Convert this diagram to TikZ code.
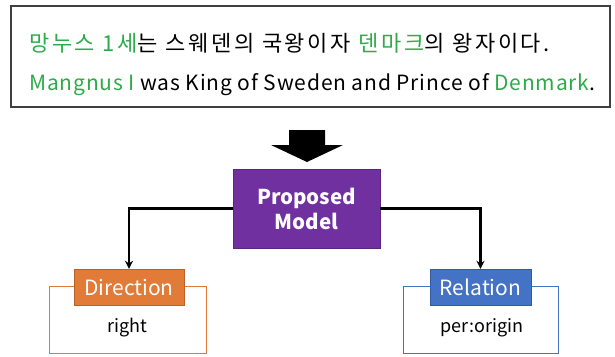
\documentclass[tikz,border=0pt]{standalone}
\usepackage{fontspec}
\setmainfont{Noto Sans CJK KR}
\usetikzlibrary{arrows.meta}
\definecolor{tgreen}{RGB}{46,170,74}
\definecolor{mpurple}{RGB}{112,48,160}
\definecolor{dorange}{RGB}{226,122,56}
\definecolor{rblue}{RGB}{68,114,196}
\tikzset{
  header/.style={draw=#1!80!black, fill=#1, text=white, minimum width=110pt, minimum height=36pt, inner sep=0pt, font=\fontsize{21}{24}\selectfont},
  outline/.style={draw=#1, line width=1pt},
  conn/.style={line width=2.4pt, -{Stealth[length=8pt,width=8pt]}},
  value/.style={font=\fontsize{18}{21}\selectfont},
}
\begin{document}
\begin{tikzpicture}[x=1pt,y=-1pt]
\useasboundingbox (0,0) rectangle (615,356);
% top box
\draw[line width=1.2pt, draw=black!75] (11,6) rectangle (610,107);
\node[anchor=west, inner sep=0pt, font=\fontsize{22}{26}\selectfont\addfontfeatures{LetterSpace=12}] (ko) at (29,43)
  {\textcolor{tgreen}{망누스 1세}는 스웨덴의 국왕이자 \textcolor{tgreen}{덴마크}의 왕자이다.};
\node[anchor=west, inner sep=0pt, font=\fontsize{21}{25}\selectfont\addfontfeatures{LetterSpace=4}] (en) at (29,85)
  {\textcolor{tgreen}{Mangnus I} was King of Sweden and Prince of \textcolor{tgreen}{Denmark}.};
% block arrow
\fill[black] (289,130) -- (325,130) -- (325,145) -- (343,145) -- (307,162) -- (271,145) -- (289,145) -- cycle;
% model
\node[draw=mpurple!80!black, fill=mpurple, text=white, minimum width=147pt, minimum height=79pt, inner sep=0pt,
  font=\bfseries\fontsize{20.5}{25}\selectfont, align=center] (model) at (306.5,208.5) {Proposed\\Model};
% outline boxes
\draw[outline=dorange] (49,286) rectangle (206,353);
\draw[outline=rblue] (403,286) rectangle (558,353);
% headers
\node[header=dorange] (dir) at (129,287) {Direction};
\node[header=rblue, minimum width=101pt] (rel) at (480.5,287) {Relation};
\node[value] (right) at (127,328) {right};
\node[value] (orig) at (482,328) {per:origin};
% connectors
\draw[conn] (model.west) -| (dir.north);
\draw[conn] (model.east) -| (rel.north);
\end{tikzpicture}
\end{document}
